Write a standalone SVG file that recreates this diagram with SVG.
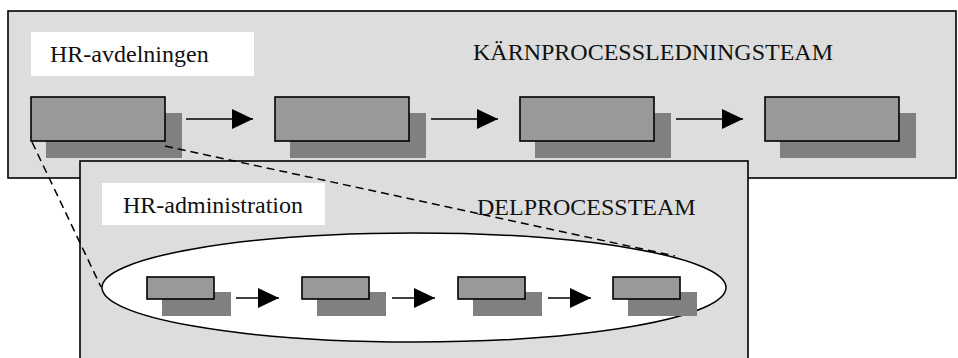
<svg xmlns="http://www.w3.org/2000/svg" width="958" height="358" viewBox="0 0 958 358">
  <style>
    .panel { fill: #dddddd; stroke: #000000; stroke-width: 1.6; }
    .label-bg { fill: #ffffff; stroke: none; }
    .shadow { fill: #808080; stroke: none; }
    .step { fill: #999999; stroke: #000000; stroke-width: 1.6; }
    .txt { font-size: 24px; fill: #111111; }
    .arrow { stroke: #000000; stroke-width: 1.6; fill: none; marker-end: url(#head); }
    .zoom { stroke: #000000; stroke-width: 1.5; fill: none; stroke-dasharray: 8 5; }
  </style>
  <defs>
    <marker id="head" markerUnits="userSpaceOnUse" markerWidth="21" markerHeight="20" refX="21" refY="10" orient="auto">
      <path d="M0,0 L21,10 L0,20 z" fill="#000000"/>
    </marker>
  </defs>

  <!-- Core process management team -->
  <g id="core-team">
    <rect class="panel" x="8" y="11" width="948" height="167"/>
    <rect class="label-bg" x="31" y="32" width="223" height="44"/>
    <text class="txt" font-family="Liberation Serif, DejaVu Serif, serif" x="50" y="62">HR-avdelningen</text>
    <text class="txt" font-family="Liberation Serif, DejaVu Serif, serif" x="473" y="60">KÄRNPROCESSLEDNINGSTEAM</text>
  </g>

  <g id="core-step-1">
    <rect class="shadow" x="46" y="113" width="136" height="45"/>
    <rect class="step" x="31" y="97" width="134" height="44"/>
  </g>
  <g id="core-step-2">
    <rect class="shadow" x="290" y="113" width="136" height="45"/>
    <rect class="step" x="275" y="97" width="134" height="44"/>
  </g>
  <g id="core-step-3">
    <rect class="shadow" x="535" y="113" width="136" height="45"/>
    <rect class="step" x="520" y="97" width="134" height="44"/>
  </g>
  <g id="core-step-4">
    <rect class="shadow" x="780" y="113" width="136" height="45"/>
    <rect class="step" x="765" y="97" width="134" height="44"/>
  </g>

  <!-- Sub-process team -->
  <g id="sub-team">
    <rect class="panel" x="80" y="161" width="668" height="200"/>
    <rect class="label-bg" x="102" y="183" width="223" height="42"/>
    <text class="txt" font-family="Liberation Serif, DejaVu Serif, serif" x="123" y="213">HR-administration</text>
    <text class="txt" font-family="Liberation Serif, DejaVu Serif, serif" x="477" y="215">DELPROCESSTEAM</text>
  </g>

  <g id="sub-scope">
    <ellipse cx="414" cy="287.5" rx="312" ry="54.5" fill="#ffffff" stroke="#000000" stroke-width="1.5"/>
  </g>

  <g id="sub-step-1">
    <rect class="shadow" x="162" y="292" width="69" height="24"/>
    <rect class="step" x="147" y="277" width="67" height="22"/>
  </g>
  <g id="sub-step-2">
    <rect class="shadow" x="317" y="292" width="69" height="24"/>
    <rect class="step" x="302" y="277" width="67" height="22"/>
  </g>
  <g id="sub-step-3">
    <rect class="shadow" x="473" y="292" width="69" height="24"/>
    <rect class="step" x="458" y="277" width="67" height="22"/>
  </g>
  <g id="sub-step-4">
    <rect class="shadow" x="628" y="292" width="69" height="24"/>
    <rect class="step" x="613" y="277" width="67" height="22"/>
  </g>

  <!-- Connectors -->
  <g id="connectors">
    <line class="arrow" x1="186" y1="119" x2="253" y2="119"/>
    <line class="arrow" x1="431" y1="119" x2="498" y2="119"/>
    <line class="arrow" x1="676" y1="119" x2="743" y2="119"/>

    <line class="arrow" x1="236" y1="298" x2="279" y2="298"/>
    <line class="arrow" x1="392" y1="298" x2="435" y2="298"/>
    <line class="arrow" x1="548" y1="298" x2="591" y2="298"/>

    <line class="zoom" x1="32" y1="142" x2="101" y2="287"/>
    <line class="zoom" x1="165" y1="146" x2="675" y2="256"/>
  </g>
</svg>
